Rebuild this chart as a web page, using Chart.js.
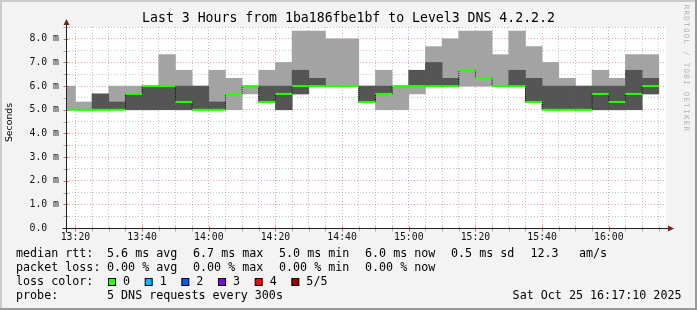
<!DOCTYPE html>
<html>
<head>
<meta charset="utf-8">
<title>Last 3 Hours from 1ba186fbe1bf to Level3 DNS 4.2.2.2</title>
<script src="https://cdn.jsdelivr.net/npm/chart.js@4.4.0/dist/chart.umd.min.js"></script>
<style>
  html, body { margin: 0; padding: 0; background: #f3f3f3; }
  #wrap { width: 697px; height: 310px; }
</style>
</head>
<body>
<div id="wrap"><canvas id="chart" width="697" height="310"></canvas></div>
<script>
// 5 minute buckets (start time), first one is only partly visible
const bucketStart = [
  '13:15', '13:20', '13:25', '13:30', '13:35', '13:40', '13:45', '13:50', '13:55',
  '14:00', '14:05', '14:10', '14:15', '14:20', '14:25', '14:30', '14:35',
  '14:40', '14:45', '14:50', '14:55', '15:00', '15:05', '15:10', '15:15',
  '15:20', '15:25', '15:30', '15:35', '15:40', '15:45', '15:50', '15:55',
  '16:00', '16:05', '16:10'
];
const bucketMinutes = 5;

// the 5 sorted rtt samples of each bucket, in ms
const pingLow    = [5, 5, 5, 5, 5, 5, 5, 5, 5, 5, 5, 5.67, 5.33, 5, 5.67, 6, 6, 6, 5.33, 5, 5, 5.67, 6, 6, 6, 6, 6, 6, 5.33, 5, 5, 5, 5, 5, 5, 5.67];
const ping2      = [5, 5, 5, 5, 5, 5, 5, 5, 5, 5, 5.67, 6, 5.33, 5, 5.67, 6, 6, 6, 5.33, 5.67, 6, 6, 6, 6, 6.67, 6.33, 6, 6, 5.33, 5, 5, 5, 5, 5, 5, 5.67];
const pingMedian = [5, 5, 5, 5, 5.67, 6, 6, 5.33, 5, 5, 5.67, 6, 5.33, 5.67, 6, 6, 6, 6, 5.33, 5.67, 6, 6, 6, 6, 6.67, 6.33, 6, 6, 5.33, 5, 5, 5, 5.67, 5.33, 5.67, 6];
const ping4      = [5, 5, 5.67, 5.33, 5.67, 6, 6, 6, 6, 5.33, 5.67, 6, 6, 6, 6.67, 6.33, 6, 6, 6, 6, 6, 6.67, 7, 6.33, 6.67, 6.33, 6, 6.67, 6.33, 6, 6, 6, 6, 6, 6.67, 6.33];
const pingHigh   = [6, 5.33, 5.67, 6, 6, 6, 7.33, 6.67, 6, 6.67, 6.33, 6, 6.67, 7, 8.33, 8.33, 8, 8, 6, 6.67, 6, 6.67, 7.67, 8, 8.33, 8.33, 7.33, 8.33, 7.67, 7, 6.33, 6, 6.67, 6.33, 7.33, 7.33];

const graphStart = '13:17:10';
const graphEnd = '16:17:10';
const xTickLabels = ['13:20', '13:40', '14:00', '14:20', '14:40', '15:00', '15:20', '15:40', '16:00'];
const yTickLabels = ['0.0  ', '1.0 m', '2.0 m', '3.0 m', '4.0 m', '5.0 m', '6.0 m', '7.0 m', '8.0 m'];
const yMax = 8.5;

const rttStats = ['5.6 ms avg', '6.7 ms max', '5.0 ms min', '6.0 ms now', '0.5 ms sd', '12.3', 'am/s'];
const lossStats = ['0.00 % avg', '0.00 % max', '0.00 % min', '0.00 % now'];
const lossLabels = ['0', '1', '2', '3', '4', '5/5'];
const lossColors = ['#26ff00', '#00b8ff', '#0059ff', '#7e00ff', '#ff0000', '#a10000'];

const mono = "'DejaVu Sans Mono', monospace";
const majorGrid = 'rgba(230, 90, 90, 0.55)';
const minorGrid = 'rgba(140, 140, 140, 0.5)';

function toMin(t) {
    const p = t.split(':').map(Number);
    return p[0] * 60 + p[1] + (p[2] || 0) / 60;
}
function fmtMin(v) {
    const h = Math.floor(v / 60);
    const m = Math.round(v - h * 60);
    return h + ':' + String(m).padStart(2, '0');
}

// smoke bars: outer = lowest..highest, inner = 2nd..4th sample
function floatBars(lo, hi) {
    const out = [];
    bucketStart.forEach((t, i) => {
        if (hi[i] > lo[i]) out.push({ x: toMin(t) + bucketMinutes / 2, y: [lo[i], hi[i]] });
    });
    return out;
}
const outerBars = floatBars(pingLow, pingHigh);
const innerBars = floatBars(ping2, ping4);

// median as flat steps over each bucket
const medianPoints = [];
bucketStart.forEach((t, i) => {
    const s = toMin(t);
    medianPoints.push({ x: s, y: pingMedian[i] }, { x: s + bucketMinutes, y: pingMedian[i] });
});
const isStep = ctx => ctx.p0.parsed.x === ctx.p1.parsed.x;

const xMin = toMin(graphStart), xMax = toMin(graphEnd);
const gridMinutes = bucketStart.map(toMin)
    .concat([toMin(bucketStart[bucketStart.length - 1]) + bucketMinutes])
    .filter(v => v >= xMin && v <= xMax);

const rrdFrame = {
    id: 'rrdFrame',
    beforeDraw(chart) {
        const { ctx, width, height, chartArea: a } = chart;
        ctx.save();
        ctx.fillStyle = '#f3f3f3';
        ctx.fillRect(0, 0, width, height);
        ctx.fillStyle = '#cbcbcb';
        ctx.fillRect(0, 0, width, 2);
        ctx.fillRect(0, 0, 2, height);
        ctx.fillStyle = '#999999';
        ctx.fillRect(0, height - 2, width, 2);
        ctx.fillRect(width - 2, 0, 2, height);
        ctx.fillStyle = '#ffffff';
        ctx.fillRect(a.left, a.top, a.right - a.left, a.bottom - a.top);
        ctx.restore();
    },
    afterDraw(chart) {
        const { ctx, chartArea: a, scales } = chart;
        const ax = Math.round(a.left) + 0.5;
        const ay = Math.round(a.bottom) + 0.5;
        ctx.save();

        // small tick marks
        ctx.lineWidth = 1;
        scales.x.ticks.forEach(t => {
            const px = Math.round(scales.x.getPixelForValue(t.value)) + 0.5;
            ctx.strokeStyle = xTickLabels.includes(fmtMin(t.value)) ? '#e06060' : '#aaaaaa';
            ctx.beginPath(); ctx.moveTo(px, ay - 2); ctx.lineTo(px, ay + 3); ctx.stroke();
        });
        scales.y.ticks.forEach(t => {
            const py = Math.round(scales.y.getPixelForValue(t.value)) + 0.5;
            ctx.strokeStyle = Number.isInteger(t.value) ? '#e06060' : '#aaaaaa';
            ctx.beginPath(); ctx.moveTo(ax - 3, py); ctx.lineTo(ax + 2, py); ctx.stroke();
        });

        // axes with arrows
        ctx.strokeStyle = '#202020';
        ctx.beginPath();
        ctx.moveTo(ax - 4, ay); ctx.lineTo(a.right + 2, ay);
        ctx.moveTo(ax, ay + 4); ctx.lineTo(ax, a.top - 2);
        ctx.stroke();
        ctx.fillStyle = '#7f1f1f';
        ctx.beginPath();
        ctx.moveTo(a.right + 2, ay - 3); ctx.lineTo(a.right + 8, ay); ctx.lineTo(a.right + 2, ay + 3);
        ctx.closePath(); ctx.fill();
        ctx.beginPath();
        ctx.moveTo(ax - 3, a.top - 2); ctx.lineTo(ax, a.top - 8); ctx.lineTo(ax + 3, a.top - 2);
        ctx.closePath(); ctx.fill();

        // title
        ctx.fillStyle = '#000';
        ctx.textBaseline = 'middle';
        ctx.textAlign = 'center';
        ctx.font = '13.2px ' + mono;
        ctx.fillText('Last 3 Hours from 1ba186fbe1bf to Level3 DNS 4.2.2.2', 348.5, 19);

        // y axis label
        ctx.save();
        ctx.translate(10, 122.5);
        ctx.rotate(-Math.PI / 2);
        ctx.font = "9.3px 'DejaVu Sans', sans-serif";
        ctx.fillText('Seconds', 0, 0);
        ctx.restore();

        // watermark
        ctx.fillStyle = '#b4b4b4';
        ctx.font = '7.5px ' + mono;
        const mark = 'RRDTOOL / TOBI OETIKER';
        for (let i = 0; i < mark.length; i++) {
            ctx.save();
            ctx.translate(686, 7 + i * 5.8);
            ctx.rotate(Math.PI / 2);
            ctx.fillText(mark[i], 0, 0);
            ctx.restore();
        }

        // legend block
        ctx.fillStyle = '#000';
        ctx.textAlign = 'left';
        ctx.font = '11.7px ' + mono;
        const cols = [107, 193, 279, 365, 451, 530.5, 579];
        ctx.fillText('median rtt:', 16, 254);
        rttStats.forEach((s, i) => ctx.fillText(s, cols[i], 254));
        ctx.fillText('packet loss:', 16, 268);
        lossStats.forEach((s, i) => ctx.fillText(s, cols[i], 268));
        ctx.fillText('loss color:', 16, 282);
        lossLabels.forEach((s, i) => {
            const sx = 108.5 + i * 36.67;
            ctx.fillStyle = lossColors[i];
            ctx.fillRect(sx, 278.5, 7, 7);
            ctx.strokeStyle = '#000';
            ctx.strokeRect(sx, 278.5, 7, 7);
            ctx.fillStyle = '#000';
            ctx.fillText(s, sx + 14.5, 282);
        });
        ctx.fillText('probe:', 16, 296);
        ctx.fillText('5 DNS requests every 300s', 107, 296);
        ctx.textAlign = 'right';
        ctx.fillText('Sat Oct 25 16:17:10 2025', 681.5, 296);
        ctx.restore();
    }
};

const barStyle = { grouped: false, barPercentage: 1, categoryPercentage: 1, borderWidth: 0, clip: 0 };

new Chart(document.getElementById('chart'), {
    type: 'bar',
    data: {
        datasets: [
            {
                type: 'line', label: 'median', data: medianPoints, order: 1, clip: 0,
                borderColor: lossColors[0], borderWidth: 2, pointRadius: 0, tension: 0,
                segment: { borderColor: ctx => isStep(ctx) ? 'rgba(0,0,0,0)' : lossColors[0] }
            },
            {
                type: 'line', label: 'steps', data: medianPoints, order: 2, clip: 0,
                borderColor: '#000', borderWidth: 1, borderDash: [1, 1], pointRadius: 0, tension: 0,
                segment: { borderColor: ctx => isStep(ctx) ? '#111' : 'rgba(0,0,0,0)' }
            },
            Object.assign({ label: 'inner', data: innerBars, backgroundColor: '#555555', order: 3 }, barStyle),
            Object.assign({ label: 'outer', data: outerBars, backgroundColor: '#a3a3a3', order: 4 }, barStyle)
        ]
    },
    options: {
        responsive: false,
        animation: false,
        events: [],
        layout: { padding: { left: 0, right: 31, top: 27, bottom: 62 } },
        plugins: {
            legend: { display: false },
            tooltip: { enabled: false },
            title: { display: false }
        },
        scales: {
            x: {
                type: 'linear',
                min: xMin,
                max: xMax,
                offset: false,
                afterBuildTicks: s => { s.ticks = gridMinutes.map(v => ({ value: v })); },
                afterFit: s => { s.height = 20; },
                grid: {
                    offset: false,
                    drawTicks: false,
                    color: ctx => (ctx.tick && xTickLabels.includes(fmtMin(ctx.tick.value))) ? majorGrid : minorGrid
                },
                border: { display: false, dash: [1, 2] },
                ticks: {
                    autoSkip: false,
                    maxRotation: 0,
                    padding: 4,
                    color: '#111',
                    font: { family: mono, size: 9.8 },
                    callback: v => xTickLabels.includes(fmtMin(v)) ? fmtMin(v) : ''
                }
            },
            y: {
                min: 0,
                max: yMax,
                afterFit: s => { s.width = 66; },
                grid: {
                    drawTicks: false,
                    color: ctx => (ctx.tick && Number.isInteger(ctx.tick.value)) ? majorGrid : minorGrid
                },
                border: { display: false, dash: [1, 2] },
                ticks: {
                    stepSize: 0.5,
                    autoSkip: false,
                    padding: 7,
                    color: '#111',
                    font: { family: mono, size: 9.8 },
                    callback: v => Number.isInteger(v) ? yTickLabels[v] : ''
                }
            }
        }
    },
    plugins: [rrdFrame]
});
</script>
</body>
</html>
